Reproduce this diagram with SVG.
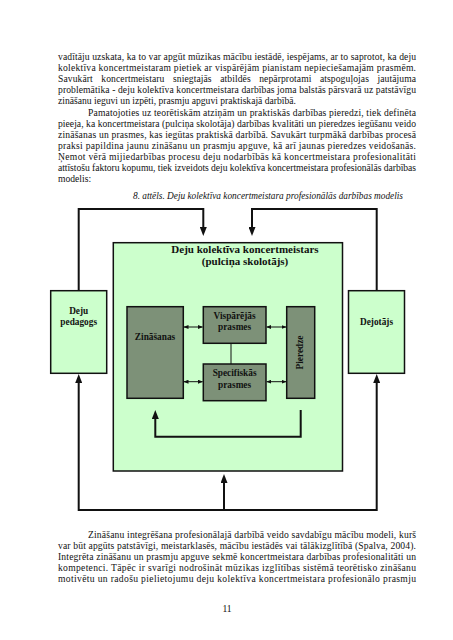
<svg xmlns="http://www.w3.org/2000/svg" width="453" height="640" viewBox="0 0 453 640">
<defs>
<style>
.body{font-family:"Liberation Serif","Times New Roman",serif;font-size:9.6px;fill:#111}
.cap{font-family:"Liberation Serif","Times New Roman",serif;font-size:9.3px;font-style:italic;fill:#111}
.lbl{font-family:"Liberation Serif","Times New Roman",serif;font-size:9.3px;font-weight:bold;fill:#111;text-anchor:middle}
.title{font-family:"Liberation Serif","Times New Roman",serif;font-size:11px;font-weight:bold;fill:#111;text-anchor:middle}
.light{fill:#ccffcc;stroke:#111;stroke-width:1.5}
.dark{fill:#7d9178;stroke:#111;stroke-width:1.5}
.conn{fill:none;stroke:#111;stroke-width:2}
.thin{fill:none;stroke:#111;stroke-width:1}
</style>
<marker id="big" viewBox="0 0 9 7" refX="4" refY="3.5" markerWidth="9" markerHeight="7" markerUnits="userSpaceOnUse" orient="auto">
<path d="M0,0 L9,3.5 L0,7 z" fill="#111"/>
</marker>
<marker id="small" viewBox="0 0 5 4" refX="4.5" refY="2" markerWidth="5" markerHeight="4" markerUnits="userSpaceOnUse" orient="auto-start-reverse">
<path d="M0,0 L5,2 L0,4 z" fill="#111"/>
</marker>
</defs>
<rect width="453" height="640" fill="#fff"/>

<g id="text-top">
<text class="body" x="58" y="60" textLength="358" lengthAdjust="spacing">vadītāju uzskata, ka to var apgūt mūzikas mācību iestādē, iespējams, ar to saprotot, ka deju</text>
<text class="body" x="58" y="71.1" textLength="358" lengthAdjust="spacing">kolektīva koncertmeistaram pietiek ar vispārējām pianistam nepieciešamajām prasmēm.</text>
<text class="body" x="58" y="82.2" textLength="358" lengthAdjust="spacing" word-spacing="6">Savukārt koncertmeistaru sniegtajās atbildēs nepārprotami atspoguļojas jautājuma</text>
<text class="body" x="58" y="93.3" textLength="358" lengthAdjust="spacing">problemātika - deju kolektīva koncertmeistara darbības joma balstās pārsvarā uz patstāvīgu</text>
<text class="body" x="58" y="104.4">zināšanu ieguvi un izpēti, prasmju apguvi praktiskajā darbībā.</text>
<text class="body" x="88" y="115.5" textLength="328" lengthAdjust="spacing">Pamatojoties uz teorētiskām atziņām un praktiskās darbības pieredzi, tiek definēta</text>
<text class="body" x="58" y="126.6" textLength="358" lengthAdjust="spacing">pieeja, ka koncertmeistara (pulciņa skolotāja) darbības kvalitāti un pieredzes iegūšanu veido</text>
<text class="body" x="58" y="137.7" textLength="358" lengthAdjust="spacing">zināšanas un prasmes, kas iegūtas praktiskā darbībā. Savukārt turpmākā darbības procesā</text>
<text class="body" x="58" y="148.8" textLength="358" lengthAdjust="spacing">praksi papildina jaunu zināšanu un prasmju apguve, kā arī jaunas pieredzes veidošanās.</text>
<text class="body" x="58" y="159.9" textLength="358" lengthAdjust="spacing">Ņemot vērā mijiedarbības procesu deju nodarbībās kā koncertmeistara profesionalitāti</text>
<text class="body" x="58" y="171" textLength="358" lengthAdjust="spacing">attīstošu faktoru kopumu, tiek izveidots deju kolektīva koncertmeistara profesionālās darbības</text>
<text class="body" x="58" y="182.1">modelis:</text>
<text class="cap" x="403" y="199" text-anchor="end">8. attēls. Deju kolektīva koncertmeistara profesionālās darbības modelis</text>
</g>

<g id="node-main">
<rect class="light" x="113.3" y="242.7" width="229.2" height="228.3"/>
<text class="title" x="245" y="253">Deju kolektīva koncertmeistars</text>
<text class="title" x="245" y="264.5">(pulciņa skolotājs)</text>
</g>
<g id="node-pedagogs">
<rect class="light" x="50.7" y="290.7" width="56" height="82.6"/>
<text class="lbl" x="78.7" y="313.5">Deju</text>
<text class="lbl" x="78.7" y="325">pedagogs</text>
</g>
<g id="node-dejotajs">
<rect class="light" x="348.5" y="290.7" width="56" height="82.6"/>
<text class="lbl" x="376.5" y="325">Dejotājs</text>
</g>
<g id="node-zinasanas">
<rect class="dark" x="127" y="306.7" width="56.3" height="91.6"/>
<text class="lbl" x="155" y="340">Zināšanas</text>
</g>
<g id="node-visparejas">
<rect class="dark" x="203.3" y="306.7" width="62.7" height="36.6"/>
<text class="lbl" x="234.6" y="318.5">Vispārējās</text>
<text class="lbl" x="234.6" y="330">prasmes</text>
</g>
<g id="node-specifiskas">
<rect class="dark" x="203.3" y="364" width="62.7" height="36.7"/>
<text class="lbl" x="234.6" y="376">Specifiskās</text>
<text class="lbl" x="234.6" y="387.5">prasmes</text>
</g>
<g id="node-pieredze">
<rect class="dark" x="286.7" y="306.7" width="28" height="91.6"/>
<text class="lbl" transform="translate(302.5,352.5) rotate(-90)" x="0" y="0">Pieredze</text>
</g>

<g id="connectors">
<path class="conn" d="M78.7,290.7 V209 H203.3 V231" marker-end="url(#big)"/>
<path class="conn" d="M376.7,290.7 V209 H252 V231" marker-end="url(#big)"/>
<path class="conn" d="M224,510 H78.7 V379" marker-end="url(#big)"/>
<path class="conn" d="M224,510 H376.7 V379" marker-end="url(#big)"/>
<path class="conn" d="M224,510 V479" marker-end="url(#big)"/>
<path class="conn" d="M300.7,410 V436.7 H155.3 V415" marker-end="url(#big)"/>
<path class="thin" d="M184,327 H202.5" marker-start="url(#small)" marker-end="url(#small)"/>
<path class="thin" d="M266.8,327 H286" marker-start="url(#small)" marker-end="url(#small)"/>
<path class="thin" d="M184,381.7 H202.5" marker-start="url(#small)" marker-end="url(#small)"/>
<path class="thin" d="M266.8,381.7 H286" marker-start="url(#small)" marker-end="url(#small)"/>
<path class="thin" d="M231,343.3 V364"/>
</g>

<g id="text-bottom">
<text class="body" x="88" y="538" textLength="328" lengthAdjust="spacing">Zināšanu integrēšana profesionālajā darbībā veido savdabīgu mācību modeli, kurš</text>
<text class="body" x="58" y="549.1" textLength="358" lengthAdjust="spacing">var būt apgūts patstāvīgi, meistarklasēs, mācību iestādēs vai tālākizglītībā (Spalva, 2004).</text>
<text class="body" x="58" y="560.2" textLength="358" lengthAdjust="spacing">Integrēta zināšanu un prasmju apguve sekmē koncertmeistara darbības profesionalitāti un</text>
<text class="body" x="58" y="571.3" textLength="358" lengthAdjust="spacing">kompetenci. Tāpēc ir svarīgi nodrošināt mūzikas izglītības sistēmā teorētisko zināšanu</text>
<text class="body" x="58" y="582.4" textLength="358" lengthAdjust="spacing">motivētu un radošu pielietojumu deju kolektīva koncertmeistara profesionālo prasmju</text>
<text class="body" x="227" y="612" text-anchor="middle">11</text>
</g>
</svg>
